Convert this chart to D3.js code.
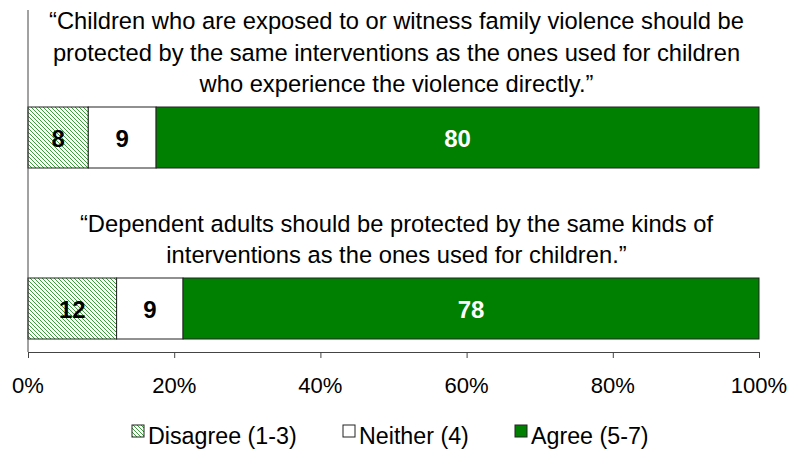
<!DOCTYPE html>
<html>
<head>
<meta charset="utf-8">
<script src="https://cdn.jsdelivr.net/npm/d3@7"></script>
<style>
  html, body { margin: 0; padding: 0; background: #fff; }
  svg { display: block; }
  text { font-family: "Liberation Sans", Arial, sans-serif; }
</style>
</head>
<body>
<script>
// Survey statements (each drawn as a centred caption above its bar)
const statements = [
  ["\u201CChildren who are exposed to or witness family violence should be",
   "protected by the same interventions as the ones used for children",
   "who experience the violence directly.\u201D"],
  ["\u201CDependent adults should be protected by the same kinds of",
   "interventions as the ones used for children.\u201D"]
];
const statementIds = ["exposed", "dependent"];

// Response categories and their values (percent of respondents)
const responses = ["Disagree (1-3)", "Neither (4)", "Agree (5-7)"];
const disagree = [8, 12];
const neither = [9, 9];
const agree = [80, 78];

const xTicks = [0, 0.2, 0.4, 0.6, 0.8, 1.0];

const W = 791, H = 454;
const margin = { left: 28, right: 32, top: 10, bottom: 102 };

const svg = d3.select("body").append("svg")
  .attr("width", W).attr("height", H);

// Pale hatched fill for "Disagree"
const defs = svg.append("defs");
const pat = defs.append("pattern")
  .attr("id", "hatch")
  .attr("patternUnits", "userSpaceOnUse")
  .attr("width", 4).attr("height", 4);
pat.append("rect").attr("width", 4).attr("height", 4).attr("fill", "#ffffff");
pat.append("path")
  .attr("d", "M-1,-1 L5,5 M-1,3 L1,5 M3,-1 L5,1")
  .attr("stroke", "#3a9e3a").attr("stroke-width", 1).attr("fill", "none");

const fills = ["url(#hatch)", "#ffffff", "#008000"];
const labelColors = ["#000000", "#000000", "#ffffff"];

const x = d3.scaleLinear()
  .domain([0, 1])
  .range([margin.left, W - margin.right]);

const y = d3.scaleBand()
  .domain(statementIds)
  .range([margin.top, H - margin.bottom])
  .padding(0);

const barH = 61;
const barGapBelow = 13;
const barTop = id => y(id) + y.bandwidth() - barGapBelow - barH;

// Stack the three responses, normalised to 100% per bar
const rows = statementIds.map((id, i) => {
  const vals = [disagree[i], neither[i], agree[i]];
  const total = d3.sum(vals);
  let acc = 0;
  return vals.map((v, k) => {
    const seg = { id, k, v, x0: acc / total, x1: (acc + v) / total };
    acc += v;
    return seg;
  });
});

// Text helper: optionally condensed text anchored at (px, py)
function label(sel, px, py, str, opts) {
  return sel.append("text")
    .attr("transform", `translate(${px},${py}) scale(${opts.sx || 1},1)`)
    .attr("text-anchor", opts.anchor || "middle")
    .attr("font-size", opts.size)
    .attr("font-weight", opts.weight || "normal")
    .attr("fill", opts.fill || "#000")
    .text(str);
}

const plotCx = (x(0) + x(1)) / 2 + 3;

// Captions
statementIds.forEach((id, i) => {
  const lines = statements[i];
  const lastBase = barTop(id) - 15;
  lines.forEach((ln, j) => {
    const base = lastBase - (lines.length - 1 - j) * 31.5;
    label(svg, plotCx, base, ln, { size: 23.5, sx: 1.01 });
  });
});

// Bars
const segG = svg.append("g");
rows.forEach(row => {
  row.forEach(s => {
    segG.append("rect")
      .attr("x", x(s.x0))
      .attr("y", barTop(s.id))
      .attr("width", x(s.x1) - x(s.x0))
      .attr("height", barH)
      .attr("fill", fills[s.k])
      .attr("stroke", "#222")
      .attr("stroke-width", 1);
    label(segG, (x(s.x0) + x(s.x1)) / 2, barTop(s.id) + barH / 2 + 9, String(s.v),
      { size: 24, weight: "bold", fill: labelColors[s.k] });
  });
});

// Axes
const axisColor = "#444";
svg.append("line")
  .attr("x1", x(0)).attr("x2", x(0))
  .attr("y1", margin.top).attr("y2", H - margin.bottom)
  .attr("stroke", axisColor).attr("stroke-width", 1);

const xAxis = svg.append("g")
  .attr("transform", `translate(0,${H - margin.bottom})`)
  .call(d3.axisBottom(x).tickValues(xTicks).tickSize(6).tickFormat(() => ""));
xAxis.select(".domain").attr("stroke", axisColor);
xAxis.selectAll(".tick line").attr("stroke", axisColor);

xTicks.forEach(t => {
  label(svg, x(t), H - margin.bottom + 41, d3.format(".0%")(t), { size: 22.5, sx: 0.98 });
});

// Legend
const legendX = [132, 343, 515];
const legG = svg.append("g");
responses.forEach((r, k) => {
  legG.append("rect")
    .attr("x", legendX[k]).attr("y", 425)
    .attr("width", 12).attr("height", 12)
    .attr("fill", fills[k]).attr("stroke", "#222").attr("stroke-width", 1);
  label(legG, legendX[k] + 16, 444, r, { size: 24.5, sx: 0.95, anchor: "start" });
});
</script>
</body>
</html>
